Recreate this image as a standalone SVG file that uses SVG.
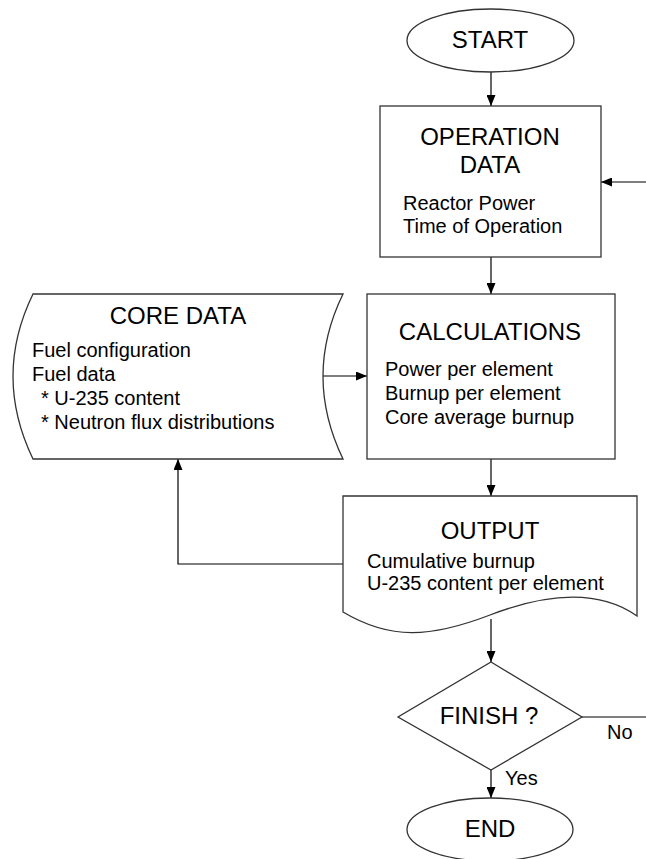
<svg xmlns="http://www.w3.org/2000/svg" width="646" height="859" viewBox="0 0 646 859">
<style>
  .shape { fill: #ffffff; stroke: #333333; stroke-width: 1.3; }
  .conn { fill: none; stroke: #000000; stroke-width: 1.2; }
  .hdr { font-family: "Liberation Sans", Arial, sans-serif; font-size: 24px; fill: #000; text-anchor: middle; }
  .body { font-family: "Liberation Sans", Arial, sans-serif; font-size: 20px; fill: #000; }
  .lbl { font-family: "Liberation Sans", Arial, sans-serif; font-size: 20px; fill: #000; }
</style>
<defs>
  <marker id="arr" markerUnits="userSpaceOnUse" markerWidth="11" markerHeight="9" refX="11" refY="4.5" orient="auto">
    <path d="M0,0 L11,4.5 L0,9 Z" fill="#000"/>
  </marker>
</defs>
<rect width="646" height="859" fill="#ffffff"/>

<g id="connectors">
  <line class="conn" x1="491" y1="72" x2="491" y2="106" marker-end="url(#arr)"/>
  <line class="conn" x1="646" y1="182" x2="601" y2="182" marker-end="url(#arr)"/>
  <line class="conn" x1="491" y1="257" x2="491" y2="294" marker-end="url(#arr)"/>
  <line class="conn" x1="323" y1="376" x2="367" y2="376" marker-end="url(#arr)"/>
  <line class="conn" x1="491" y1="459" x2="491" y2="496" marker-end="url(#arr)"/>
  <polyline class="conn" points="343,564 178,564 178,459" marker-end="url(#arr)"/>
  <line class="conn" x1="491" y1="619" x2="491" y2="662" marker-end="url(#arr)"/>
  <line class="conn" x1="582" y1="717" x2="646" y2="717"/>
  <line class="conn" x1="491" y1="770" x2="491" y2="798" marker-end="url(#arr)"/>
  <text class="lbl" x="607" y="739">No</text>
  <text class="lbl" x="505" y="785">Yes</text>
</g>

<g id="start">
  <ellipse class="shape" cx="490.5" cy="40.5" rx="83.5" ry="31.5"/>
  <text class="hdr" x="490" y="48">START</text>
</g>

<g id="operation-data">
  <rect class="shape" x="380" y="106" width="221" height="151"/>
  <text class="hdr" x="490" y="145">OPERATION</text>
  <text class="hdr" x="490" y="173">DATA</text>
  <text class="body" x="403" y="210">Reactor Power</text>
  <text class="body" x="403" y="233">Time of Operation</text>
</g>

<g id="core-data">
  <path class="shape" d="M33,294 H343 Q303,376 343,459 H33 Q-7,376 33,294 Z"/>
  <text class="hdr" x="178" y="324">CORE DATA</text>
  <text class="body" x="32" y="357">Fuel configuration</text>
  <text class="body" x="32" y="381">Fuel data</text>
  <text class="body" x="41" y="405">* U-235 content</text>
  <text class="body" x="41" y="429">* Neutron flux distributions</text>
</g>

<g id="calculations">
  <rect class="shape" x="367" y="294" width="248" height="165"/>
  <text class="hdr" x="490" y="340">CALCULATIONS</text>
  <text class="body" x="385" y="376">Power per element</text>
  <text class="body" x="385" y="400">Burnup per element</text>
  <text class="body" x="385" y="424">Core average burnup</text>
</g>

<g id="output">
  <path class="shape" d="M343,496 H637 V616 C600,590 550,592 490,615 C430,638 390,640 343,612 Z"/>
  <text class="hdr" x="490" y="539">OUTPUT</text>
  <text class="body" x="367" y="568">Cumulative burnup</text>
  <text class="body" x="367" y="590">U-235 content per element</text>
</g>

<g id="finish">
  <path class="shape" d="M491,662 L582,717 L491,770 L398,717 Z"/>
  <text class="hdr" x="489" y="724">FINISH ?</text>
</g>

<g id="end">
  <ellipse class="shape" cx="490" cy="829.5" rx="83" ry="31.5"/>
  <text class="hdr" x="490" y="837">END</text>
</g>
</svg>
